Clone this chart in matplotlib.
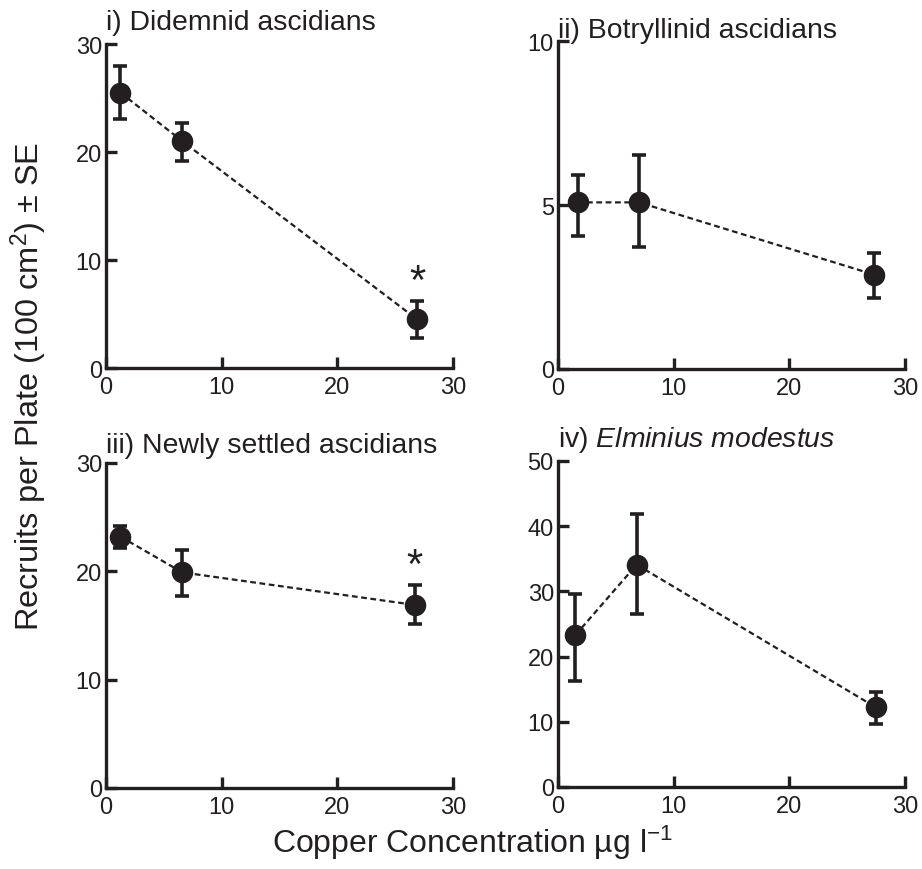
import matplotlib
matplotlib.use("Agg")
import matplotlib.pyplot as plt

plt.rcParams['font.family'] = ['Liberation Sans', 'DejaVu Sans']
plt.rcParams['mathtext.fontset'] = 'custom'
plt.rcParams['mathtext.rm'] = 'Liberation Sans'
plt.rcParams['mathtext.it'] = 'Liberation Sans:italic'

INK = '#231f20'

# Data (x = copper concentration, y = mean recruits, err = SE down / up)
x_i = [1.25, 6.6, 26.9]
y_i = [25.5, 21.0, 4.5]
lo_i = [2.4, 1.8, 1.75]
hi_i = [2.5, 1.7, 1.7]

x_ii = [1.7, 7.0, 27.3]
y_ii = [5.08, 5.08, 2.88]
lo_ii = [1.02, 1.35, 0.72]
hi_ii = [0.84, 1.44, 0.67]

x_iii = [1.25, 6.6, 26.7]
y_iii = [23.2, 19.9, 16.9]
lo_iii = [1.0, 2.2, 1.8]
hi_iii = [1.0, 2.1, 1.8]

x_iv = [1.5, 6.8, 27.5]
y_iv = [23.3, 34.1, 12.2]
lo_iv = [7.0, 7.6, 2.6]
hi_iv = [6.3, 7.8, 2.3]

titles = ['i) Didemnid ascidians', 'ii) Botryllinid ascidians',
          'iii) Newly settled ascidians', r'iv) $\mathit{Elminius\ modestus}$']
ylims = [30, 10, 30, 50]
yticks = [[0, 10, 20, 30], [0, 5, 10], [0, 10, 20, 30], [0, 10, 20, 30, 40, 50]]
xticks = [0, 10, 20, 30]
star_pos = [(26.9, 8.0), None, (26.7, 20.5), None]

W, H = 922, 870
fig = plt.figure(figsize=(W / 100, H / 100), dpi=100)

boxes = [(106, 453, 45, 369), (558, 905, 42, 370),
         (106, 453, 464, 789), (558, 905, 462, 788)]
title_off = [0.046, 0.012, 0.035, 0.046]

series = [(x_i, y_i, lo_i, hi_i), (x_ii, y_ii, lo_ii, hi_ii),
          (x_iii, y_iii, lo_iii, hi_iii), (x_iv, y_iv, lo_iv, hi_iv)]

for k, (l, r, t, b) in enumerate(boxes):
    ax = fig.add_axes([l / W, 1 - b / H, (r - l) / W, (b - t) / H])
    xs, ys, lo, hi = series[k]
    ax.plot(xs, ys, linestyle=(0, (2.6, 1.6)), color=INK, lw=1.6, zorder=2)
    ax.errorbar(xs, ys, yerr=[lo, hi], fmt='o', color=INK, ms=14.5,
                elinewidth=2.6, capsize=5, capthick=2.6, zorder=3, clip_on=False)
    ax.set_xlim(0, 30)
    ax.set_ylim(0, ylims[k])
    ax.set_xticks(xticks)
    ax.set_yticks(yticks[k])
    for s in ['top', 'right']:
        ax.spines[s].set_visible(False)
    for s in ['left', 'bottom']:
        ax.spines[s].set_linewidth(2.4)
        ax.spines[s].set_color(INK)
    ax.tick_params(direction='in', length=8, width=2.4, color=INK,
                   labelsize=17, labelcolor=INK)
    ax.tick_params(axis='y', pad=3)
    ax.tick_params(axis='x', pad=6)
    ax.patch.set_alpha(0)
    ax.text(0, 1 + title_off[k], titles[k], transform=ax.transAxes,
            ha='left', va='baseline', fontsize=20.4, color=INK)
    if star_pos[k] is not None:
        ax.text(star_pos[k][0], star_pos[k][1], '*', ha='center', va='center',
                fontsize=30, color=INK)

fig.text(0.032, 0.556, 'Recruits per Plate (100 cm$^{2}$) ± SE', rotation=90,
         ha='center', va='center', fontsize=23.4, color=INK)
fig.text(0.512, 0.031, 'Copper Concentration µg l$^{-1}$', ha='center',
         va='center', fontsize=23, color=INK)

fig.savefig('out.png', dpi=100)
